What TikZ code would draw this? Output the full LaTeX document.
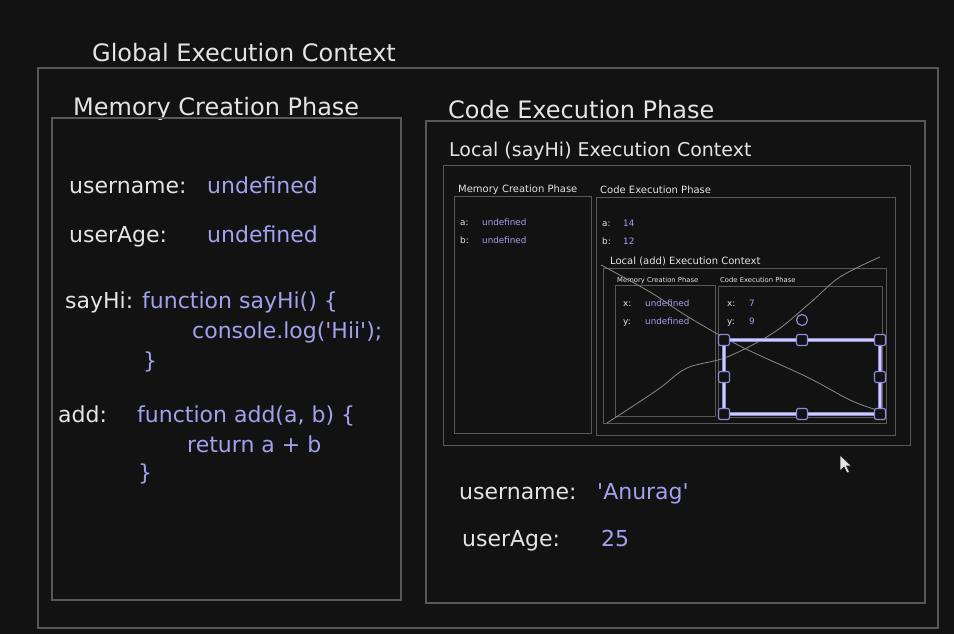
\documentclass[tikz,border=0pt]{standalone}
\usepackage{fontspec}
\setmainfont{DejaVu Sans}
\definecolor{bgcol}{HTML}{121212}
\definecolor{ink}{HTML}{E4E4E4}
\definecolor{valcol}{HTML}{A3A0EE}
\definecolor{frame}{HTML}{585858}
\definecolor{selcol}{HTML}{8E8AD8}
\definecolor{sellight}{HTML}{CFCDF6}
\newcommand{\fsTitle}{\fontsize{24}{28}\selectfont}
\newcommand{\fsBody}{\fontsize{22}{26}\selectfont}
\newcommand{\fsLocal}{\fontsize{19}{22}\selectfont}
\newcommand{\fsSmall}{\fontsize{10}{12}\selectfont}
\newcommand{\fsTiny}{\fontsize{8.8}{10}\selectfont}
\newcommand{\fsMicro}{\fontsize{6.8}{8}\selectfont}

\begin{document}
\begin{tikzpicture}[x=1pt,y=-1pt,
  box/.style={draw=frame,line width=1.3pt},
  thinbox/.style={draw=frame,line width=0.9pt},
  key/.style={anchor=base west,text=ink,inner sep=0pt},
  val/.style={anchor=base west,text=valcol,inner sep=0pt},
  handle/.style={draw=selcol,fill=bgcol,line width=1.2pt,rounded corners=2pt},
  scribble/.style={draw=frame!70!white,line width=0.8pt}]
% background
\fill[bgcol] (0,0) rectangle (954,634);
\useasboundingbox (0,0) rectangle (954,634);
% Global Execution Context
\node[key,font=\fsTitle] (gecTitle) at (92,62) {Global Execution Context};
\draw[box] (38,68) rectangle (938,628);
% Memory Creation Phase
\node[key,font=\fsTitle] (memTitle) at (73,115) {Memory Creation Phase};
\draw[box] (52,118) rectangle (401,600);
\node[key,font=\fsBody] (memUser) at (69,193) {username:};
\node[val,font=\fsBody] (memUserVal) at (207,193) {undefined};
\node[key,font=\fsBody] (memAge) at (69,242) {userAge:};
\node[val,font=\fsBody] (memAgeVal) at (207,242) {undefined};
\node[key,font=\fsBody] (memSayHi) at (65,308) {sayHi:};
\node[val,font=\fsBody] (sayHiFn) at (142,308) {function sayHi() \{};
\node[val,font=\fsBody] (sayHiBody) at (192,338) {console.log(\textquotesingle Hii\textquotesingle);};
\node[val,font=\fsBody] (sayHiEnd) at (143,368) {\}};
\node[key,font=\fsBody] (memAdd) at (58,422) {add:};
\node[val,font=\fsBody] (addFn) at (137,422) {function add(a, b) \{};
\node[val,font=\fsBody] (addBody) at (187,452) {return a + b};
\node[val,font=\fsBody] (addEnd) at (138,480) {\}};
% Code Execution Phase
\node[key,font=\fsTitle] (codeTitle) at (448,118) {Code Execution Phase};
\draw[box] (426,121) rectangle (925,603);
\node[key,font=\fsBody] (codeUser) at (459,499) {username:};
\node[val,font=\fsBody] (codeUserVal) at (597,499) {\textquotesingle Anurag\textquotesingle};
\node[key,font=\fsBody] (codeAge) at (462,546) {userAge:};
\node[val,font=\fsBody] (codeAgeVal) at (601,546) {25};
% Local (sayHi) Execution Context
\node[key,font=\fsLocal] (hiTitle) at (449,157) {Local (sayHi) Execution Context};
\draw[thinbox] (443,165) rectangle (910,445);
\node[key,font=\fsSmall] (hiMemTitle) at (458,192) {Memory Creation Phase};
\draw[thinbox] (454,196) rectangle (591,433);
\node[key,font=\fsTiny] (hiMemA) at (460,225) {a:};
\node[val,font=\fsTiny] (hiMemAVal) at (482,225) {undefined};
\node[key,font=\fsTiny] (hiMemB) at (460,243) {b:};
\node[val,font=\fsTiny] (hiMemBVal) at (482,243) {undefined};
\node[key,font=\fsSmall] (hiCodeTitle) at (600,193) {Code Execution Phase};
\draw[thinbox] (596,197) rectangle (895,435);
\node[key,font=\fsTiny] (hiCodeA) at (602,226) {a:};
\node[val,font=\fsTiny] (hiCodeAVal) at (623,226) {14};
\node[key,font=\fsTiny] (hiCodeB) at (602,244) {b:};
\node[val,font=\fsTiny] (hiCodeBVal) at (623,244) {12};
% Local (add) Execution Context
\node[key,font=\fsSmall] (addTitle) at (610,264) {Local (add) Execution Context};
\draw[thinbox] (603,268) rectangle (886,423);
\node[key,font=\fsMicro] (addMemTitle) at (617,282) {Memory Creation Phase};
\draw[thinbox] (615,285) rectangle (715,416);
\node[key,font=\fsTiny] (addMemX) at (623,306) {x:};
\node[val,font=\fsTiny] (addMemXVal) at (645,306) {undefined};
\node[key,font=\fsTiny] (addMemY) at (623,324) {y:};
\node[val,font=\fsTiny] (addMemYVal) at (645,324) {undefined};
\node[key,font=\fsMicro] (addCodeTitle) at (720,282) {Code Execution Phase};
\draw[thinbox] (718,286) rectangle (882,417);
\node[key,font=\fsTiny] (addCodeX) at (727,306) {x:};
\node[val,font=\fsTiny] (addCodeXVal) at (749,306) {7};
\node[key,font=\fsTiny] (addCodeY) at (727,324) {y:};
\node[val,font=\fsTiny] (addCodeYVal) at (749,324) {9};
% scribbled strokes
\draw[scribble] plot[smooth,tension=0.6] coordinates {(601,265) (650,292) (690,318) (742,347) (807,377) (850,400) (877,410)};
\draw[scribble] plot[smooth,tension=0.6] coordinates {(607,423) (627,410) (660,388) (687,368) (727,357) (773,333) (810,303) (840,277) (880,257)};
% selection frame
\draw[selcol,line width=4pt] (724,340) rectangle (880,414);
\draw[sellight,line width=1.2pt] (724,340) rectangle (880,414);
\foreach \hx/\hy in {724/340,802/340,880/340,724/377,880/377,724/414,802/414,880/414}
  \draw[handle] (\hx-5.5,\hy-5.5) rectangle (\hx+5.5,\hy+5.5);
\draw[draw=selcol,fill=bgcol,line width=1.2pt] (802,320) circle (5.5);
% mouse pointer
\fill[ink,draw=bgcol,line width=0.6pt] (840,455) -- (840,471) -- (844,467) -- (847,473) -- (849.5,472) -- (846.5,466) -- (851.5,466) -- cycle;
\end{tikzpicture}
\end{document}
